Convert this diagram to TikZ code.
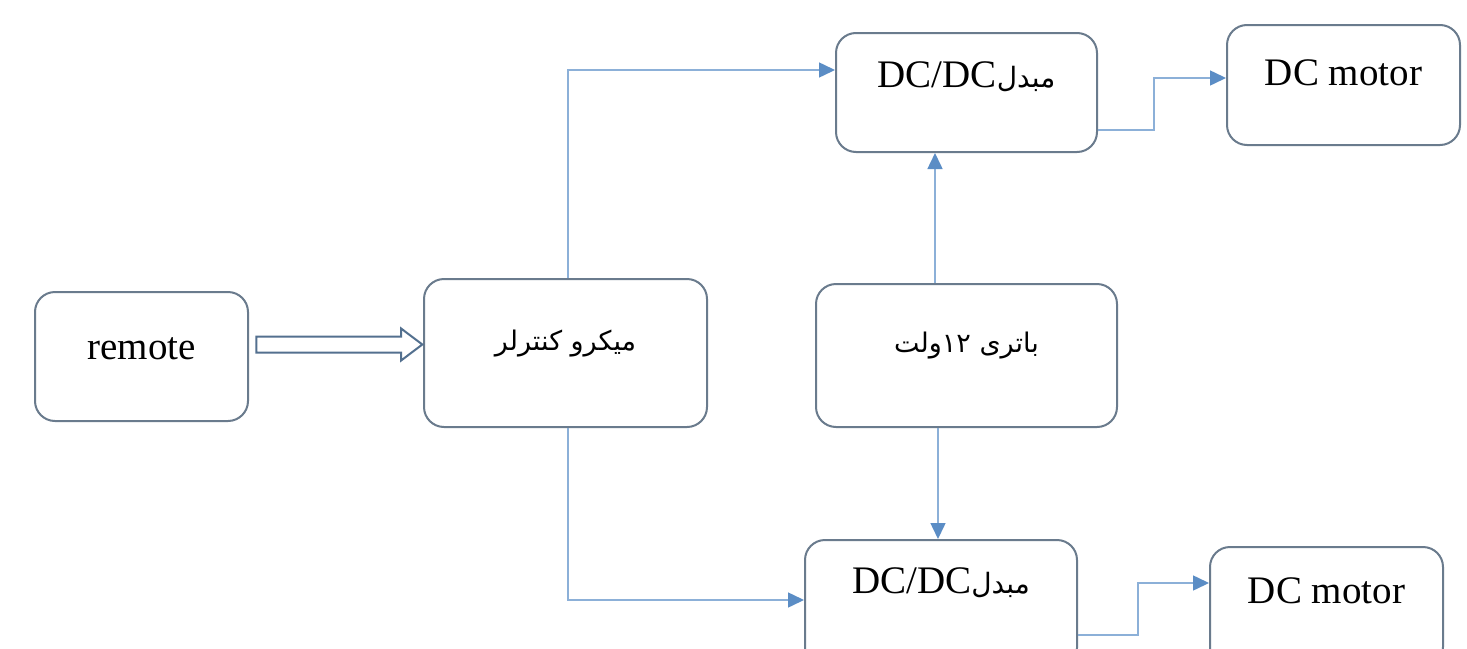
\documentclass[tikz,border=0pt]{standalone}
\usepackage{fontspec}
\setmainfont{Liberation Serif}
\newfontfamily\arabicfont[Script=Arabic]{DejaVu Sans}
\TeXXeTstate=1
\usetikzlibrary{shapes.arrows,arrows.meta}
\definecolor{boxc}{HTML}{6A7B8D}
\definecolor{linec}{HTML}{8CB0D8}
\definecolor{tipc}{HTML}{5B8DC5}
\definecolor{harrowc}{HTML}{53708F}
\tikzset{
  blk/.style={draw=boxc, line width=2pt, rounded corners=20pt, inner sep=0pt, fill=white},
  lbl/.style={font=\fontsize{39}{44}\selectfont, inner sep=0pt, anchor=base},
  albl/.style={font=\arabicfont\fontsize{27}{32}\selectfont, inner sep=0pt, anchor=base},
  conn/.style={draw=linec, line width=1.5pt, -{Triangle[length=16pt,width=15pt,color=tipc]}},
  hollow/.style={single arrow, draw=harrowc, line width=2pt, fill=white, inner xsep=0pt,
    inner ysep=7pt, minimum height=166pt, single arrow head extend=8pt,
    single arrow tip angle=74, single arrow head indent=0pt}
}
\newcommand{\mobaddel}{{\arabicfont\fontsize{28}{32}\selectfont\beginR مبدل\endR}}
\begin{document}
\begin{tikzpicture}[x=1pt,y=-1pt]
\useasboundingbox (0,0) rectangle (1467,648);
\clip (0,0) rectangle (1467,648);
\fill[white] (0,0) rectangle (1467,648);
% boxes
\node[blk, minimum width=213pt, minimum height=129pt] (remote) at (141.5,356.5) {};
\node[blk, minimum width=283pt, minimum height=148pt] (micro) at (565.5,353) {};
\node[blk, minimum width=301pt, minimum height=143pt] (battery) at (966.5,355.5) {};
\node[blk, minimum width=261pt, minimum height=119pt] (dcdc1) at (966.5,92.5) {};
\node[blk, minimum width=233pt, minimum height=120pt] (motor1) at (1343.5,85) {};
\node[blk, minimum width=272pt, minimum height=128pt] (dcdc2) at (941,604) {};
\node[blk, minimum width=233pt, minimum height=120pt] (motor2) at (1326.5,607) {};
% texts
\node[lbl] (tremote) at (remote.center |- 0,359) {remote};
\node[albl] (tmicro) at (micro.center |- 0,350) {\beginR میکرو کنترلر\endR};
\node[albl] (tbattery) at (battery.center |- 0,352) {\beginR باتری ۱۲ولت\endR};
\node[lbl] (tdcdc1) at (dcdc1.center |- 0,87) {DC/DC\mobaddel};
\node[lbl] (tmotor1) at (motor1.center |- 0,85) {DC motor};
\node[lbl] (tdcdc2) at (dcdc2.center |- 0,593) {DC/DC\mobaddel};
\node[lbl] (tmotor2) at (motor2.center |- 0,603) {DC motor};
% hollow arrow remote -> micro
\node[hollow, anchor=tip] (harrow) at ([yshift=8.5pt,xshift=1pt]micro.west) {};
% connectors
\draw[conn] ([xshift=2.5pt]micro.north) |- ([yshift=22.5pt]dcdc1.west);
\draw[conn] ([xshift=2.5pt]micro.south) |- ([yshift=4pt]dcdc2.west);
\draw[conn] ([xshift=-31.5pt]battery.north) -- ([xshift=-31.5pt]dcdc1.south);
\draw[conn] ([xshift=-28.5pt]battery.south) -- ([xshift=-3pt]dcdc2.north);
\draw[conn] ([yshift=-37.5pt]dcdc1.east) -- ++(56pt,0) |- ([yshift=7pt]motor1.west);
\draw[conn] ([yshift=-31pt]dcdc2.east) -- ++(60pt,0) |- ([yshift=24pt]motor2.west);
\end{tikzpicture}
\end{document}
